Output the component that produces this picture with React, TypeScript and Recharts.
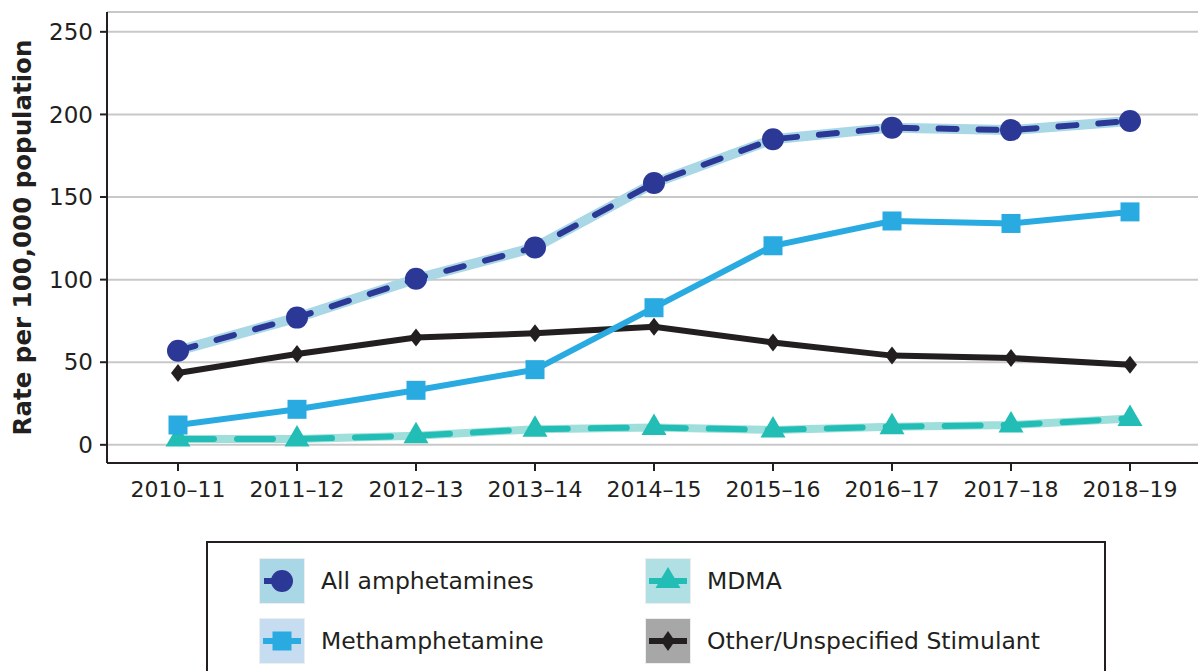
import React from 'react';
import { LineChart, Line, XAxis, YAxis, CartesianGrid, Label } from 'recharts';

const categories = ['2010–11', '2011–12', '2012–13', '2013–14', '2014–15', '2015–16', '2016–17', '2017–18', '2018–19'];
const allAmphetamines = [57, 77, 100.5, 119.5, 158.5, 185, 192, 190.5, 196];
const methamphetamine = [12, 21.5, 33, 45.5, 83, 120.5, 135.5, 134, 141];
const mdma = [3.5, 3.5, 5.5, 9.5, 10.5, 9, 11, 12, 16];
const otherStimulant = [43.5, 55, 65, 67.5, 71.5, 62, 54, 52.5, 48.5];
const yTicks = [0, 50, 100, 150, 200, 250];

const data = categories.map((c, i) => ({
  year: c,
  amph: allAmphetamines[i],
  meth: methamphetamine[i],
  mdma: mdma[i],
  other: otherStimulant[i],
}));

const FONT = '"DejaVu Sans", sans-serif';
const INK = '#231f20';
const C_AMPH = '#2b3896';
const C_AMPH_LIGHT = '#a9d7e6';
const C_METH = '#29abe2';
const C_MDMA = '#22bdb4';
const C_MDMA_LIGHT = '#9fdfdb';
const C_OTHER = '#231f20';

const CircleDot = (p: any) => <circle key={p.index} cx={p.cx} cy={p.cy} r={11} fill={C_AMPH} />;
const SquareDot = (p: any) => <rect key={p.index} x={p.cx - 9.5} y={p.cy - 9.5} width={19} height={19} fill={C_METH} />;
const TriangleDot = (p: any) => (
  <polygon key={p.index} points={`${p.cx},${p.cy - 14} ${p.cx + 12.5},${p.cy + 7.5} ${p.cx - 12.5},${p.cy + 7.5}`} fill={C_MDMA} />
);
const DiamondDot = (p: any) => (
  <polygon key={p.index} points={`${p.cx},${p.cy - 9} ${p.cx + 7},${p.cy} ${p.cx},${p.cy + 9} ${p.cx - 7},${p.cy}`} fill={C_OTHER} />
);

const YLabel = (props: any) => {
  const vb = props.viewBox || {};
  const cy = vb.y + vb.height / 2;
  return (
    <text x={22} y={cy} transform={`rotate(-90, 22, ${cy})`} textAnchor="middle" dominantBaseline="central"
      style={{ fontFamily: FONT, fontWeight: 700, fontSize: 24.5, fill: INK }}>
      Rate per 100,000 population
    </text>
  );
};

const LegendIcon = ({ bg, kind }: { bg: string; kind: string }) => (
  <svg width={46} height={46} style={{ display: 'block' }}>
    <rect x={0.5} y={0.5} width={45} height={45} fill={bg} stroke="#eeeeee" strokeWidth={1} />
    {kind === 'circle' && (
      <>
        <line x1={5} y1={23} x2={22} y2={23} stroke={C_AMPH} strokeWidth={6} />
        <circle cx={23} cy={23} r={11} fill={C_AMPH} />
      </>
    )}
    {kind === 'square' && (
      <>
        <line x1={4} y1={23} x2={42} y2={23} stroke={C_METH} strokeWidth={6} />
        <rect x={13.5} y={13.5} width={19} height={19} fill={C_METH} />
      </>
    )}
    {kind === 'triangle' && (
      <>
        <line x1={4} y1={23} x2={42} y2={23} stroke={C_MDMA} strokeWidth={6} />
        <polygon points="23,9 35.5,30 10.5,30" fill={C_MDMA} />
      </>
    )}
    {kind === 'diamond' && (
      <>
        <line x1={4} y1={23} x2={42} y2={23} stroke={C_OTHER} strokeWidth={6} />
        <polygon points="23,13 30,23 23,33 16,23" fill={C_OTHER} />
      </>
    )}
  </svg>
);

const legendItems = [
  { label: 'All amphetamines', bg: '#a9d7e6', kind: 'circle', left: 51, top: 15 },
  { label: 'Methamphetamine', bg: '#c6ddf1', kind: 'square', left: 51, top: 75 },
  { label: 'MDMA', bg: '#b0dfe4', kind: 'triangle', left: 437, top: 15 },
  { label: 'Other/Unspecified Stimulant', bg: '#a7a7a7', kind: 'diamond', left: 437, top: 75 },
];

export default function App() {
  return (
    <div style={{ position: 'absolute', left: 0, top: 0, width: 1198, height: 671, background: '#fff', overflow: 'hidden' }}>
      <LineChart width={1198} height={671} data={data} margin={{ top: 12, right: 0, left: 0, bottom: 178 }}>
        <CartesianGrid horizontal vertical={false} stroke="#c8c8c8" strokeWidth={2} />
        <XAxis
          dataKey="year"
          height={30}
          padding={{ left: 71, right: 68 }}
          stroke={INK}
          strokeWidth={2}
          tickSize={8}
          tickMargin={10}
          tick={{ fill: INK, fontSize: 22, fontFamily: FONT }}
          tickLine={{ stroke: INK, strokeWidth: 2 }}
          interval={0}
        />
        <YAxis
          width={107}
          domain={[-11, 262]}
          ticks={yTicks}
          allowDataOverflow
          stroke={INK}
          strokeWidth={2}
          tickSize={7}
          tickMargin={7}
          tick={{ fill: INK, fontSize: 23, fontFamily: FONT }}
          tickLine={{ stroke: INK, strokeWidth: 2 }}
        >
          <Label content={<YLabel />} />
        </YAxis>
        <Line dataKey="mdma" stroke={C_MDMA_LIGHT} strokeWidth={8} dot={false} activeDot={false} isAnimationActive={false} />
        <Line dataKey="mdma" stroke={C_MDMA} strokeWidth={6} strokeDasharray="36 23" strokeLinecap="round" dot={TriangleDot} activeDot={false} isAnimationActive={false} />
        <Line dataKey="other" stroke={C_OTHER} strokeWidth={6} dot={DiamondDot} activeDot={false} isAnimationActive={false} />
        <Line dataKey="meth" stroke={C_METH} strokeWidth={6} dot={SquareDot} activeDot={false} isAnimationActive={false} />
        <Line dataKey="amph" stroke={C_AMPH_LIGHT} strokeWidth={10} dot={false} activeDot={false} isAnimationActive={false} />
        <Line dataKey="amph" stroke={C_AMPH} strokeWidth={6} strokeDasharray="18 22" strokeLinecap="round" dot={CircleDot} activeDot={false} isAnimationActive={false} />
      </LineChart>
      <div style={{ position: 'absolute', left: 206, top: 541, width: 900, height: 160, border: `2px solid ${INK}`, boxSizing: 'border-box' }}>
        {legendItems.map((it) => (
          <div key={it.label} style={{ position: 'absolute', left: it.left, top: it.top, display: 'flex', alignItems: 'center' }}>
            <LegendIcon bg={it.bg} kind={it.kind} />
            <span style={{ marginLeft: 16, fontFamily: FONT, fontSize: 23.5, color: INK, whiteSpace: 'nowrap' }}>{it.label}</span>
          </div>
        ))}
      </div>
    </div>
  );
}
